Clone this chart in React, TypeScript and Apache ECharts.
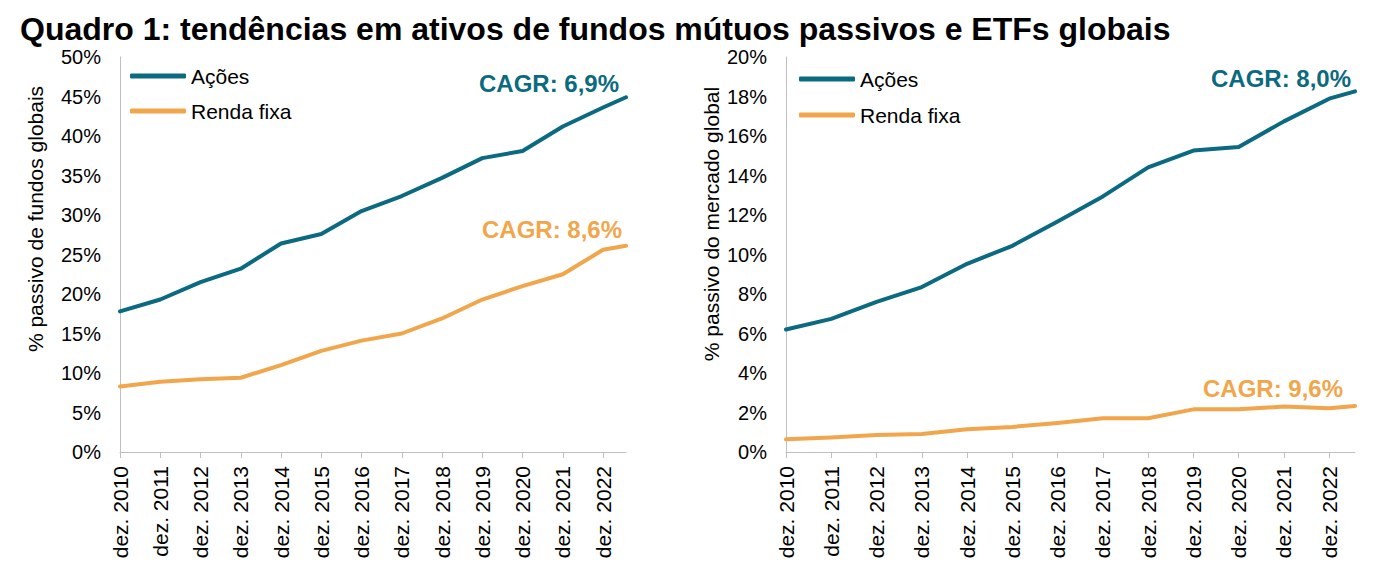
import React, { useEffect, useRef } from "react";
import * as echarts from "echarts";

// Data (December of each year, plus the latest observation mid-2023)
const tickYears = [2010, 2011, 2012, 2013, 2014, 2015, 2016, 2017, 2018, 2019, 2020, 2021, 2022];
const pointDates = [2010, 2011, 2012, 2013, 2014, 2015, 2016, 2017, 2018, 2019, 2020, 2021, 2022, 2022.57];

// Left chart: % passivo de fundos globais
const fundsEquity = [17.8, 19.3, 21.5, 23.2, 26.4, 27.6, 30.5, 32.4, 34.7, 37.2, 38.1, 41.2, 43.6, 44.9];
const fundsFixedIncome = [8.3, 8.9, 9.2, 9.4, 11.0, 12.8, 14.1, 15.0, 16.9, 19.3, 21.0, 22.5, 25.6, 26.1];

// Right chart: % passivo do mercado global
const marketEquity = [6.2, 6.74, 7.6, 8.35, 9.53, 10.44, 11.67, 12.94, 14.41, 15.26, 15.44, 16.74, 17.89, 18.26];
const marketFixedIncome = [0.64, 0.73, 0.86, 0.91, 1.15, 1.27, 1.47, 1.71, 1.71, 2.16, 2.16, 2.3, 2.21, 2.33];

const seriesNames = ["Ações", "Renda fixa"];
const cagrLabels = ["CAGR: 6,9%", "CAGR: 8,6%", "CAGR: 8,0%", "CAGR: 9,6%"];

const TEAL = "#0b6a80";
const ORANGE = "#f2a64c";
const FONT = "'Liberation Sans', Arial, sans-serif";

const toPoints = (values: number[]) => pointDates.map((d, i) => [d, values[i]]);

export default function App() {
  const ref = useRef<HTMLDivElement>(null);

  useEffect(() => {
    if (!ref.current) return;
    const chart = echarts.init(ref.current, null, { renderer: "svg" });

    const xAxisBase = (gridIndex: number) => ({
      type: "value",
      gridIndex,
      min: 2010,
      max: 2022.57,
      interval: 1,
      splitLine: { show: false },
      axisLine: { show: true, lineStyle: { color: "#bfbfbf", width: 1 } },
      axisTick: { show: true, length: 6, lineStyle: { color: "#bfbfbf" }, customValues: tickYears },
      axisLabel: {
        customValues: tickYears,
        rotate: 90,
        margin: 14,
        color: "#000",
        fontSize: 21,
        fontFamily: FONT,
        formatter: (v: number) => "dez. " + v,
      },
    });

    const yAxisBase = (gridIndex: number, max: number, interval: number) => ({
      type: "value",
      gridIndex,
      min: 0,
      max,
      interval,
      splitLine: { show: false },
      axisLine: { show: true, lineStyle: { color: "#bfbfbf", width: 1 } },
      axisTick: { show: false },
      axisLabel: {
        margin: 19,
        color: "#000",
        fontSize: 20,
        fontFamily: FONT,
        formatter: "{value}%",
      },
    });

    const lineSeries = (name: string, values: number[], color: string, idx: number) => ({
      type: "line",
      name,
      xAxisIndex: idx,
      yAxisIndex: idx,
      data: toPoints(values),
      showSymbol: false,
      symbol: "none",
      color,
      lineStyle: { color, width: 4, cap: "round", join: "round" },
    });

    const legendBase = (left: number, top: number, gap: number) => ({
      orient: "vertical",
      left,
      top,
      itemGap: gap,
      itemWidth: 56,
      itemHeight: 5,
      icon: "roundRect",
      data: seriesNames,
      selectedMode: false,
      textStyle: { fontSize: 21, lineHeight: 22, color: "#000", fontFamily: FONT },
    });

    const cagrText = (text: string, right: number, y: number, color: string) => ({
      type: "text",
      x: right,
      y,
      style: {
        text,
        fill: color,
        fontSize: 24,
        fontWeight: "bold",
        fontFamily: FONT,
        textAlign: "right",
        textVerticalAlign: "middle",
      },
    });

    const axisName = (text: string, x: number, y: number) => ({
      type: "text",
      x,
      y,
      rotation: Math.PI / 2,
      style: {
        text,
        fill: "#000",
        fontSize: 21,
        fontFamily: FONT,
        textAlign: "center",
        textVerticalAlign: "middle",
      },
    });

    chart.setOption({
      animation: false,
      backgroundColor: "#fff",
      title: {
        text: "Quadro 1: tendências em ativos de fundos mútuos passivos e ETFs globais",
        left: 15,
        top: 8,
        textStyle: { fontSize: 32, fontWeight: "bold", color: "#000", fontFamily: FONT },
      },
      grid: [
        { left: 120, top: 57, width: 506, height: 395 },
        { left: 786, top: 57, width: 569, height: 395 },
      ],
      xAxis: [xAxisBase(0), xAxisBase(1)],
      yAxis: [yAxisBase(0, 50, 5), yAxisBase(1, 20, 2)],
      legend: [legendBase(125, 60, 13), legendBase(794, 63, 14)],
      series: [
        lineSeries(seriesNames[0], fundsEquity, TEAL, 0),
        lineSeries(seriesNames[1], fundsFixedIncome, ORANGE, 0),
        lineSeries(seriesNames[0], marketEquity, TEAL, 1),
        lineSeries(seriesNames[1], marketFixedIncome, ORANGE, 1),
      ],
      graphic: [
        cagrText(cagrLabels[0], 619, 83, TEAL),
        cagrText(cagrLabels[1], 622, 229, ORANGE),
        cagrText(cagrLabels[2], 1351, 78, TEAL),
        cagrText(cagrLabels[3], 1343, 388, ORANGE),
        axisName("% passivo de fundos globais", 35, 219),
        axisName("% passivo do mercado global", 711, 224),
      ],
    });

    return () => chart.dispose();
  }, []);

  return (
    <div
      ref={ref}
      style={{ position: "fixed", left: 0, top: 0, width: 1376, height: 579, background: "#fff" }}
    />
  );
}
